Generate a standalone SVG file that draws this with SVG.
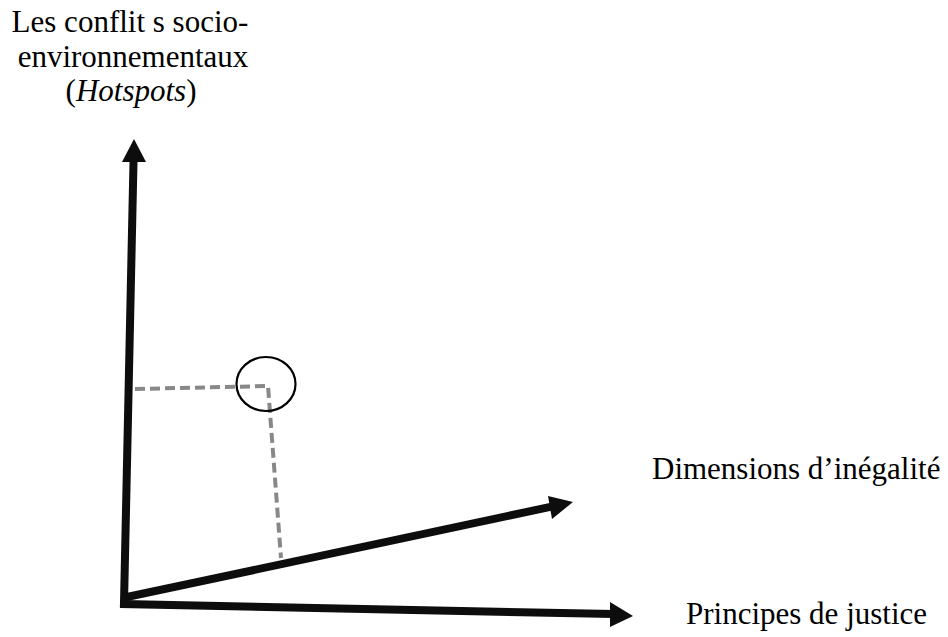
<svg xmlns="http://www.w3.org/2000/svg" width="948" height="637" viewBox="0 0 948 637">
<style>
.lbl{font-family:"Liberation Serif","Times New Roman",serif;font-size:31px;fill:#000}
.axis{stroke:#0d0d0d;stroke-width:8;fill:none;stroke-linecap:square}
.head{fill:#0d0d0d}
.dash{stroke:#888;stroke-width:4;fill:none;stroke-dasharray:10 5}
</style>
<rect width="948" height="637" fill="#fff"/>
<g id="connectors">
<path class="axis" d="M124 603 L133.5 162"/>
<polygon class="head" points="134,139 146,162 122,162"/>
<path class="axis" d="M124 604 L610 614"/>
<polygon class="head" points="633,616 610,602 610,627"/>
<path class="axis" d="M127 597 L550 507"/>
<polygon class="head" points="573,502 548,496 552,519"/>
<path class="dash" d="M135 389 L268 386 L281 558"/>
</g>
<g id="hotspot">
<ellipse cx="266" cy="384" rx="29.5" ry="27" fill="none" stroke="#000" stroke-width="2.2"/>
</g>
<g id="label-y">
<text class="lbl" text-anchor="middle" x="130" y="32">Les conflit s socio-</text>
<text class="lbl" text-anchor="middle" x="133" y="67">environnementaux</text>
<text class="lbl" text-anchor="middle" x="131" y="101">(<tspan font-style="italic">Hotspots</tspan>)</text>
</g>
<g id="label-diag">
<text class="lbl" x="652" y="479">Dimensions d’inégalité</text>
</g>
<g id="label-x">
<text class="lbl" x="686" y="624">Principes de justice</text>
</g>
</svg>
